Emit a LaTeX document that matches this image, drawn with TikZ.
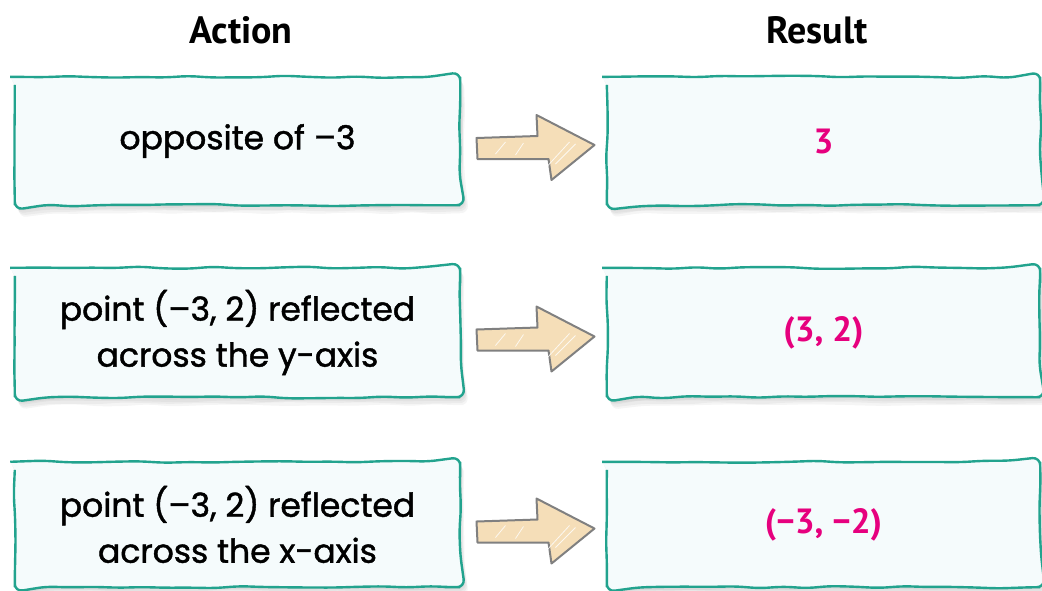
\documentclass[tikz,border=0pt]{standalone}
\usepackage{fontspec}
\setmainfont{PT Sans}
\newfontfamily\hand[FakeBold=1.3]{Poppins}
\usetikzlibrary{calc,decorations.pathmorphing,backgrounds}
\definecolor{boxline}{RGB}{34,163,142}
\definecolor{pinkres}{RGB}{230,0,126}
\definecolor{arrowfill}{RGB}{245,222,184}
\definecolor{arrowline}{RGB}{128,128,128}
\definecolor{boxfill}{RGB}{245,251,252}
\begin{document}
\pgfmathsetseed{7}
\begin{tikzpicture}[x=1pt,y=-1pt,
  slotL/.style={minimum width=445pt,inner sep=0pt,align=center,
    font=\hand\fontsize{33}{46}\selectfont},
  slotR/.style={minimum width=433pt,inner sep=0pt,align=center,
    text=pinkres,font=\bfseries\fontsize{35}{40}\selectfont},
  header/.style={font=\bfseries\fontsize{38}{44}\selectfont},
  wob/.style={decorate,decoration={random steps,segment length=24pt,amplitude=1.2pt},
    rounded corners=8pt},
  boxline style/.style={wob,draw=boxline,line width=2.4pt,fill=boxfill},
  shadowbox/.style={wob,fill=black,opacity=0.04},
  blockarrow/.style={draw=arrowline,fill=arrowfill,line width=2pt,line join=round}]
\useasboundingbox (0,0) rectangle (1042,590);

\node[header] (hA) at (241,30) {Action};
\node[header] (hR) at (817,30) {Result};

\node[slotL,minimum height=128pt] (l1) at (237.5,141) {opposite of –3};
\node[slotL,minimum height=129pt] (l2) at (237.5,332.5) {point (–3, 2) reflected\\across the y-axis};
\node[slotL,minimum height=125pt] (l3) at (237.5,524.5) {point (–3, 2) reflected\\across the x-axis};

\node[slotR,minimum height=128pt] (r1) at (823.5,141) {3};
\node[slotR,minimum height=129pt] (r2) at (823.5,332.5) {(3, 2)};
\node[slotR,minimum height=125pt] (r3) at (823.5,524.5) {(−3, −2)};

\begin{scope}[on background layer]
\foreach \b in {l1,l2,l3,r1,r2,r3}{
  \foreach \s in {2,4,6,8}{
    \fill[shadowbox] ([shift={(\s/2,\s)}]\b.north west) rectangle ([shift={(\s/2,\s)}]\b.south east);
  }
  \path[boxline style] (\b.north west) rectangle (\b.south east);
}
\end{scope}

\foreach \a/\b [count=\i] in {l1/r1,l2/r2,l3/r3}{
  \coordinate (m\i) at ($(\a.east)!0.5!(\b.west)+(2,7)$);
  \begin{scope}[shift={(m\i)}]
    \draw[blockarrow] (-59,-10) -- (2,-12) -- (1,-33) -- (59,-3) -- (16,32) -- (13,11) -- (-58,11) -- cycle;
    \draw[white,opacity=0.8,line width=0.8pt] (-40,6) -- (-30,-6) (-20,7) -- (-12,-5) (12,18) -- (34,-6) (20,16) -- (40,-4);
  \end{scope}
}
\end{tikzpicture}
\end{document}
